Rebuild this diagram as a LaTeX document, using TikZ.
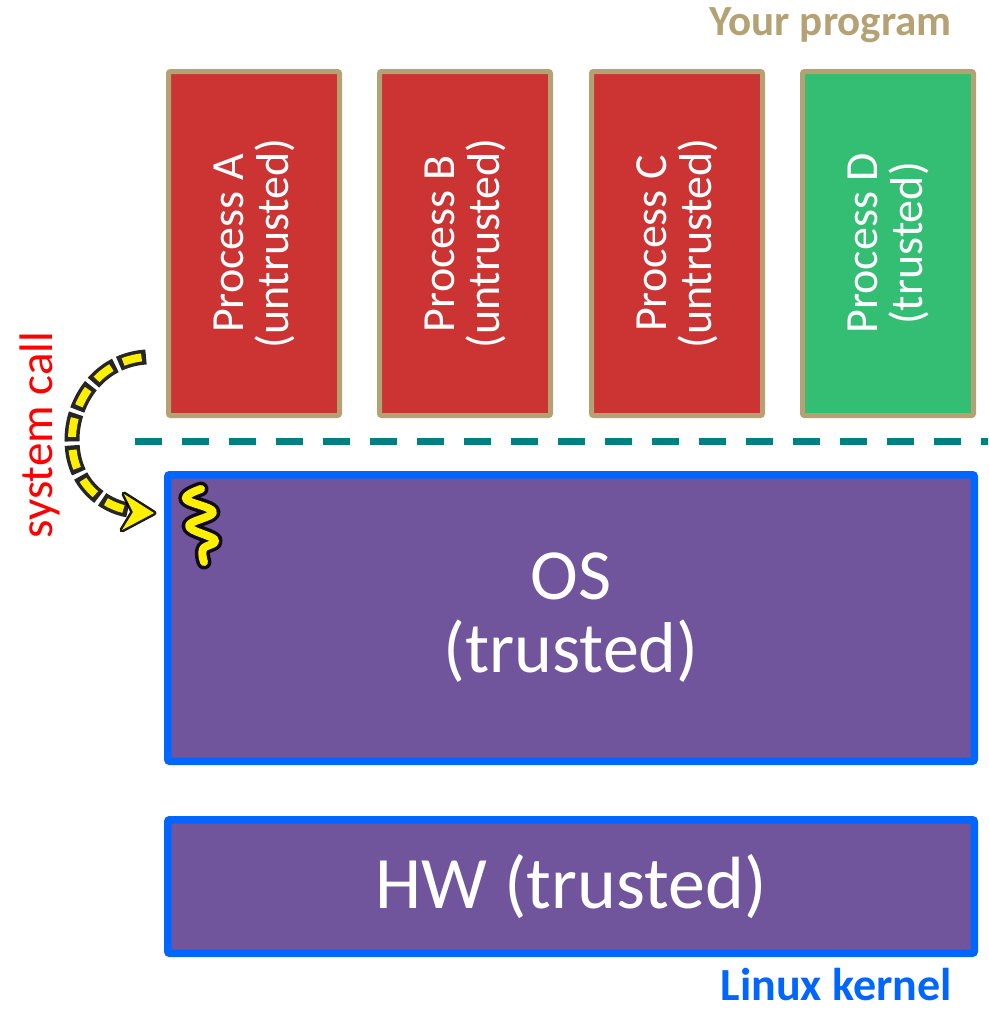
\documentclass[tikz,border=0pt]{standalone}
\usepackage{fontspec}
\setmainfont{Carlito}
\usetikzlibrary{arrows.meta}
\definecolor{tanc}{RGB}{181,162,116}
\definecolor{pred}{RGB}{204,51,51}
\definecolor{pgreen}{RGB}{51,190,115}
\definecolor{ospurple}{RGB}{112,84,156}
\definecolor{kblue}{RGB}{0,102,255}
\definecolor{teal2}{RGB}{0,128,128}
\definecolor{yel}{RGB}{255,240,0}
\tikzset{
  pbox/.style={draw=tanc, line width=5pt, rounded corners=2pt, minimum width=171pt, minimum height=344pt, inner sep=0pt},
  ptext/.style={text=white, rotate=90, align=center, font=\fontsize{46}{45}\selectfont, inner sep=0pt},
  kbox/.style={draw=kblue, fill=ospurple, line width=7.5pt, rounded corners=2pt, minimum width=806.5pt, inner sep=0pt, text=white, align=center},
  glow/.style={black, line width=15pt, line cap=round, opacity=0.85},
  yline/.style={yel, line width=8pt, line cap=round},
}
\begin{document}
\begin{tikzpicture}[x=1pt, y=-1pt]
\useasboundingbox (0,0) rectangle (988,1012);
% process boxes
\node[pbox, fill=pred] (A) at (254,243.5) {};
\node[pbox, fill=pred] (B) at (465,243.5) {};
\node[pbox, fill=pred] (C) at (677,243.5) {};
\node[pbox, fill=pgreen] (D) at (888,243.5) {};
\node[ptext] (tA) at (A.center) {Process A\\(untrusted)};
\node[ptext] (tB) at (B.center) {Process B\\(untrusted)};
\node[ptext] (tC) at (C.center) {Process C\\(untrusted)};
\node[ptext] (tD) at (D.center) {Process D\\(trusted)};
% labels
\node[anchor=base east, text=tanc, font=\fontsize{43}{43}\selectfont\bfseries, inner sep=0pt] (yp) at (952,35) {Your program};
\node[anchor=base east, text=kblue, font=\fontsize{46}{46}\selectfont\bfseries, inner sep=0pt, text depth=0pt] (lk) at (952,1000) {Linux kernel};
% divider
\coordinate (dl) at (135,441);
\coordinate (dr) at (988,441);
\draw[teal2, line width=7pt, dash pattern=on 27pt off 20pt] (dl) -- (dr);
% kernel boxes
\node[kbox, minimum height=286.5pt, font=\fontsize{72}{73}\selectfont] (OS) at (571,618) {OS\\(trusted)};
\node[kbox, minimum height=133.5pt, font=\fontsize{74}{74}\selectfont] (HW) at (571,886.5) {HW (trusted)};
% system call label
\node[rotate=90, anchor=base, text=red, font=\fontsize{47}{47}\selectfont, inner sep=0pt] (sc) at (52,435) {system call};
% system call arrow
\coordinate (s0) at (146,357);
\coordinate (s1) at (72,440);
\coordinate (s2) at (154,513);
\draw[glow, dash pattern=on 28pt off 4pt, line cap=butt] (s0) .. controls (100,360) and (72,400) .. (s1) .. controls (72,485) and (105,506) .. (128,510);
\draw[yline, dash pattern=on 19pt off 13pt, dash phase=-4.5pt, line cap=butt] (s0) .. controls (100,360) and (72,400) .. (s1) .. controls (72,485) and (105,506) .. (128,510);
\draw[black, line width=5pt, line join=round, fill=yel, opacity=0.9] (s2) -- (124,494) -- (133,512) -- (122,530) -- cycle;
\draw[fill=yel, draw=none] (s2) -- (124,494) -- (133,512) -- (122,530) -- cycle;
% squiggle
\draw[glow, line join=round] plot[smooth, tension=0.7] coordinates {(201,489) (186,499) (213,512) (189,526) (215,540) (203,549) (204,562)};
\draw[yline, line join=round] plot[smooth, tension=0.7] coordinates {(201,489) (186,499) (213,512) (189,526) (215,540) (203,549) (204,562)};
\end{tikzpicture}
\end{document}
